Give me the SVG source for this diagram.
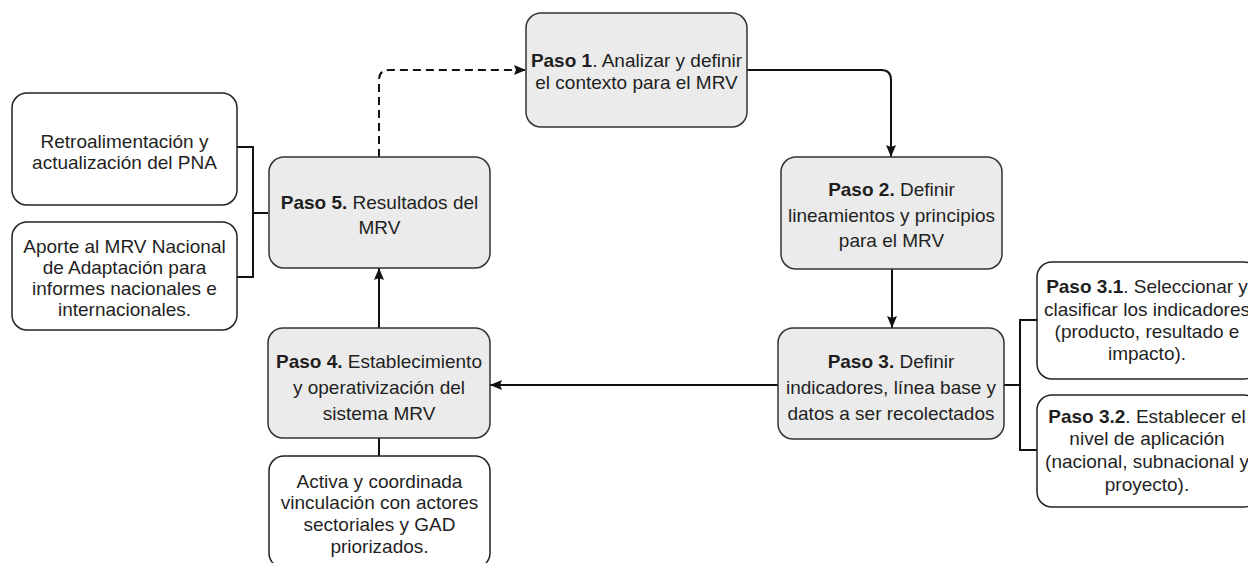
<svg xmlns="http://www.w3.org/2000/svg" width="1248" height="563" viewBox="0 0 1248 563">
<defs>
<style>
.g{fill:#ebebeb;stroke:#333;stroke-width:1.5}
.w{fill:#fff;stroke:#222;stroke-width:1.5}
.t{font-family:"Liberation Sans",Arial,sans-serif;font-size:19px;fill:#1f1f1f;text-anchor:middle}
.b{font-weight:bold}
.c{fill:none;stroke:#111;stroke-width:2}
.d{stroke-dasharray:8 5}
</style>
<marker id="ah" markerUnits="userSpaceOnUse" markerWidth="13" markerHeight="11" refX="12" refY="5" orient="auto" viewBox="0 0 13 11">
<path d="M0,0 L12,5 L0,10 L2,5 Z" fill="#111"/>
</marker>
</defs>
<rect width="1248" height="563" fill="#fff"/>
<g id="connectors">
<path class="c d" d="M379,157 L379,80 Q379,70 389,70 L526,70" marker-end="url(#ah)"/>
<path class="c" d="M747,70 L881,70 Q891,70 891,80 L891,157" marker-end="url(#ah)"/>
<path class="c" d="M892,269 L892,328" marker-end="url(#ah)"/>
<path class="c" d="M778,385 L490,385" marker-end="url(#ah)"/>
<path class="c" d="M379,328 L379,268" marker-end="url(#ah)"/>
<path class="c" d="M379,438 L379,456"/>
<path class="c" d="M268,213 L253,213 M237,147 L253,147 L253,277 L237,277"/>
<path class="c" d="M1004,385 L1020,385 M1037,320 L1020,320 L1020,450 L1037,450"/>
</g>
<g id="paso1">
<rect class="g" x="526" y="13" width="221" height="114" rx="15"/>
<text class="t" x="636.5" y="67"><tspan class="b">Paso 1</tspan>. Analizar y definir</text>
<text class="t" x="636.5" y="89">el contexto para el MRV</text>
</g>
<g id="paso2">
<rect class="g" x="781" y="157" width="221" height="112" rx="15"/>
<text class="t" x="891.5" y="196"><tspan class="b">Paso 2.</tspan> Definir</text>
<text class="t" x="891.5" y="222">lineamientos y principios</text>
<text class="t" x="891.5" y="247">para el MRV</text>
</g>
<g id="paso3">
<rect class="g" x="778" y="328" width="226" height="111" rx="15"/>
<text class="t" x="891" y="368"><tspan class="b">Paso 3.</tspan> Definir</text>
<text class="t" x="891" y="394">indicadores, línea base y</text>
<text class="t" x="891" y="420">datos a ser recolectados</text>
</g>
<g id="paso31">
<rect class="w" x="1037" y="262" width="222" height="117" rx="15"/>
<text class="t" x="1147" y="293"><tspan class="b">Paso 3.1</tspan>. Seleccionar y</text>
<text class="t" x="1147" y="316">clasificar los indicadores</text>
<text class="t" x="1147" y="338">(producto, resultado e</text>
<text class="t" x="1147" y="360">impacto).</text>
</g>
<g id="paso32">
<rect class="w" x="1037" y="395" width="222" height="112" rx="15"/>
<text class="t" x="1147" y="423"><tspan class="b">Paso 3.2</tspan>. Establecer el</text>
<text class="t" x="1147" y="445">nivel de aplicación</text>
<text class="t" x="1147" y="468">(nacional, subnacional y</text>
<text class="t" x="1147" y="491">proyecto).</text>
</g>
<g id="paso4">
<rect class="g" x="268" y="328" width="222" height="110" rx="15"/>
<text class="t" x="379" y="368"><tspan class="b">Paso 4.</tspan> Establecimiento</text>
<text class="t" x="379" y="394">y operativización del</text>
<text class="t" x="379" y="420">sistema MRV</text>
</g>
<g id="vinculacion">
<rect class="w" x="269" y="456" width="221" height="112" rx="15"/>
<text class="t" x="379.5" y="488">Activa y coordinada</text>
<text class="t" x="379.5" y="509">vinculación con actores</text>
<text class="t" x="379.5" y="531">sectoriales y GAD</text>
<text class="t" x="379.5" y="553">priorizados.</text>
</g>
<g id="paso5">
<rect class="g" x="269" y="157" width="221" height="111" rx="15"/>
<text class="t" x="379.5" y="209"><tspan class="b">Paso 5.</tspan> Resultados del</text>
<text class="t" x="379.5" y="234">MRV</text>
</g>
<g id="retroalimentacion">
<rect class="w" x="12" y="93" width="225" height="112" rx="15"/>
<text class="t" x="124.5" y="148">Retroalimentación y</text>
<text class="t" x="124.5" y="169">actualización del PNA</text>
</g>
<g id="aporte">
<rect class="w" x="12" y="222" width="225" height="108" rx="15"/>
<text class="t" x="124.5" y="253">Aporte al MRV Nacional</text>
<text class="t" x="124.5" y="274">de Adaptación para</text>
<text class="t" x="124.5" y="295">informes nacionales e</text>
<text class="t" x="124.5" y="316">internacionales.</text>
</g>
</svg>
